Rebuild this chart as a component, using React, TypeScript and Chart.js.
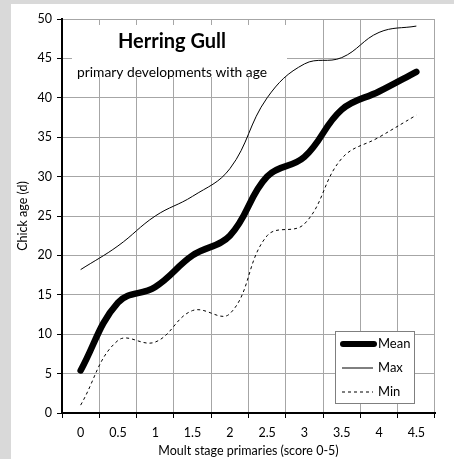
import React, { useEffect, useRef } from 'react';
import { Chart, registerables } from 'chart.js';

Chart.register(...registerables);

const categories = ['0', '0.5', '1', '1.5', '2', '2.5', '3', '3.5', '4', '4.5'];
const meanValues = [5.4, 14.0, 16.0, 20.0, 22.5, 30.0, 32.5, 38.5, 40.8, 43.3];
const maxValues = [18.2, 21.2, 25.0, 27.5, 31.0, 40.0, 44.3, 45.1, 48.3, 49.1];
const minValues = [1.0, 9.2, 9.0, 13.0, 12.6, 22.5, 24.0, 32.3, 35.0, 37.8];
const yTickValues = [0, 5, 10, 15, 20, 25, 30, 35, 40, 45, 50];
const titleText = 'Herring Gull';
const subtitleText = 'primary developments with age';
const xAxisTitle = 'Moult stage primaries (score 0-5)';
const yAxisTitle = 'Chick age (d)';
const seriesNames = ['Mean', 'Max', 'Min'];

const FONT = 'Lato, "Open Sans", sans-serif';
const GRID = '#a6a6a6';

const overlayPlugin = {
  id: 'overlay',
  beforeDatasetsDraw(chart: any) {
    const { ctx, chartArea } = chart;
    ctx.save();
    ctx.fillStyle = '#ffffff';
    ctx.fillRect(chartArea.left + 10, chartArea.top + 6, 215, 52);
    ctx.restore();
  },
  afterDraw(chart: any) {
    const { ctx, chartArea } = chart;
    ctx.save();
    // Title
    ctx.fillStyle = '#000';
    ctx.textAlign = 'center';
    ctx.textBaseline = 'alphabetic';
    ctx.font = `bold 20px ${FONT}`;
    ctx.fillText(titleText, chartArea.left + 110, chartArea.top + 29);
    ctx.font = `13.8px ${FONT}`;
    ctx.fillText(subtitleText, chartArea.left + 110, chartArea.top + 58);

    // Legend box
    const bx = chartArea.right - 100;
    const by = chartArea.bottom - 82;
    const bw = 79;
    const bh = 72;
    ctx.fillStyle = '#ffffff';
    ctx.fillRect(bx, by, bw, bh);
    ctx.strokeStyle = '#7f7f7f';
    ctx.lineWidth = 1;
    ctx.strokeRect(bx + 0.5, by + 0.5, bw, bh);

    const rows = [
      { y: by + 13, width: 6, dash: [] as number[], cap: 'round', x1: bx + 8, x2: bx + 39 },
      { y: by + 37, width: 1, dash: [] as number[], cap: 'butt', x1: bx + 7, x2: bx + 38 },
      { y: by + 61, width: 1, dash: [3, 3], cap: 'butt', x1: bx + 7, x2: bx + 38 },
    ];
    rows.forEach((r, i) => {
      ctx.beginPath();
      ctx.strokeStyle = '#000';
      ctx.lineWidth = r.width;
      ctx.lineCap = r.cap;
      ctx.setLineDash(r.dash);
      ctx.moveTo(r.x1, r.y);
      ctx.lineTo(r.x2, r.y);
      ctx.stroke();
      ctx.setLineDash([]);
      ctx.fillStyle = '#000';
      ctx.textAlign = 'left';
      ctx.textBaseline = 'middle';
      ctx.font = `13px ${FONT}`;
      ctx.fillText(seriesNames[i], bx + 43, r.y);
    });
    ctx.restore();
  },
};

export default function App() {
  const canvasRef = useRef<HTMLCanvasElement | null>(null);

  useEffect(() => {
    const canvas = canvasRef.current;
    if (!canvas) return;
    const chart = new Chart(canvas, {
      type: 'line',
      data: {
        labels: categories,
        datasets: [
          {
            label: seriesNames[1],
            data: maxValues,
            borderColor: '#000',
            borderWidth: 1,
            pointRadius: 0,
            tension: 0.4,
            fill: false,
          },
          {
            label: seriesNames[2],
            data: minValues,
            borderColor: '#000',
            borderWidth: 1,
            borderDash: [3, 3],
            pointRadius: 0,
            tension: 0.4,
            fill: false,
          },
          {
            label: seriesNames[0],
            data: meanValues,
            borderColor: '#000',
            borderWidth: 6.5,
            borderCapStyle: 'round',
            borderJoinStyle: 'round',
            pointRadius: 0,
            tension: 0.4,
            fill: false,
          },
        ],
      },
      options: {
        animation: false,
        responsive: false,
        maintainAspectRatio: false,
        layout: { padding: { left: 0, right: 19, top: 15, bottom: 0 } },
        plugins: {
          legend: { display: false },
          title: { display: false },
          tooltip: { enabled: false },
        },
        font: { family: FONT },
        scales: {
          x: {
            type: 'category',
            offset: true,
            grid: {
              offset: true,
              color: GRID,
              lineWidth: 1,
              tickLength: 5,
              tickColor: '#000',
              drawTicks: true,
            },
            border: { color: '#000', width: 2 },
            ticks: {
              color: '#000',
              font: { family: FONT, size: 12.5 },
              padding: 7,
              maxRotation: 0,
              autoSkip: false,
            },
            title: {
              display: true,
              text: xAxisTitle,
              color: '#000',
              font: { family: FONT, size: 12.5 },
              padding: { top: 0, bottom: 1 },
            },
            afterFit(scale: any) {
              scale.height = 46;
            },
          },
          y: {
            min: 0,
            max: 50,
            afterBuildTicks(scale: any) {
              scale.ticks = yTickValues.map((v) => ({ value: v }));
            },
            grid: {
              color: GRID,
              lineWidth: 1,
              tickLength: 5,
              tickColor: '#000',
            },
            border: { color: '#000', width: 2 },
            ticks: {
              color: '#000',
              font: { family: FONT, size: 12.5 },
              padding: 5,
            },
            title: {
              display: true,
              text: yAxisTitle,
              color: '#000',
              font: { family: FONT, size: 12.5 },
              padding: { top: 4, bottom: 0 },
            },
            afterFit(scale: any) {
              scale.width = 51;
            },
          },
        },
      },
      plugins: [overlayPlugin],
    });
    return () => chart.destroy();
  }, []);

  return (
    <div
      style={{
        position: 'fixed',
        left: 0,
        top: 0,
        width: 454,
        height: 459,
        background: '#d9d9d9',
      }}
    >
      <div
        style={{
          position: 'absolute',
          left: 11,
          top: 4,
          width: 443,
          height: 455,
          background: '#ffffff',
        }}
      >
        <canvas ref={canvasRef} width={443} height={455} style={{ display: 'block' }} />
      </div>
    </div>
  );
}
